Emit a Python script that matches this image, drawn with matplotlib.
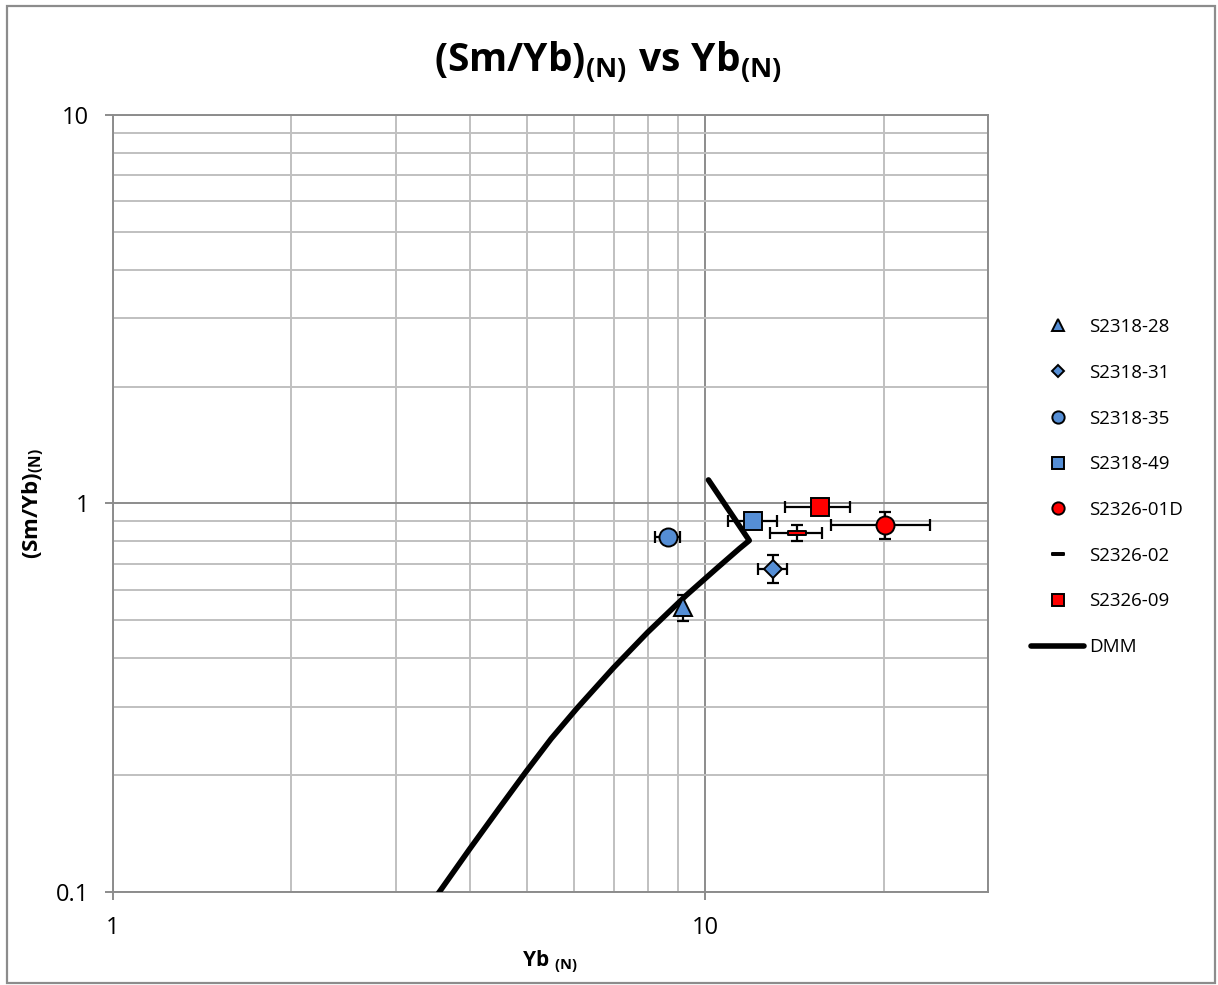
import matplotlib
matplotlib.use("Agg")
import matplotlib.pyplot as plt
from matplotlib.path import Path
from matplotlib.patches import Rectangle
from matplotlib.ticker import FixedLocator, NullFormatter

plt.rcParams['font.family'] = ['Open Sans', 'DejaVu Sans']
plt.rcParams['mathtext.fontset'] = 'custom'
plt.rcParams['mathtext.rm'] = 'Open Sans'
plt.rcParams['mathtext.bf'] = 'Open Sans:bold'
plt.rcParams['mathtext.it'] = 'Open Sans:italic'

# Sample data: Yb(N), (Sm/Yb)(N) with symmetric errors
samples = ['S2318-28', 'S2318-31', 'S2318-35', 'S2318-49', 'S2326-01D', 'S2326-02', 'S2326-09']
yb_n = [9.15, 13.0, 8.64, 12.05, 20.1, 14.3, 15.6]
sm_yb_n = [0.54, 0.68, 0.82, 0.90, 0.88, 0.84, 0.98]
yb_err = [0.0, 0.73, 0.43, 1.15, 3.8, 1.43, 1.95]
sm_yb_err = [0.043, 0.057, 0.0, 0.0, 0.07, 0.04, 0.0]

# DMM melting trend
dmm_yb = [10.12, 11.86, 11.41, 10.43, 9.28, 7.99, 7.00, 6.07, 5.49, 4.98, 4.49, 4.00, 3.56, 3.50]
dmm_sm_yb = [1.15, 0.803, 0.765, 0.679, 0.580, 0.466, 0.378, 0.297, 0.248, 0.204, 0.1645, 0.129, 0.1003, 0.0967]

blue = '#558ED5'
red = '#FF0000'
dash = Path([(-1, -0.22), (1, -0.22), (1, 0.22), (-1, 0.22), (-1, -0.22)],
            [Path.MOVETO, Path.LINETO, Path.LINETO, Path.LINETO, Path.CLOSEPOLY])
styles = [
    dict(marker='^', color=blue, ms=13),
    dict(marker='D', color=blue, ms=9),
    dict(marker='o', color=blue, ms=13),
    dict(marker='s', color=blue, ms=13),
    dict(marker='o', color=red, ms=13),
    dict(marker=dash, color=red, ms=13),
    dict(marker='s', color=red, ms=13),
]

fig = plt.figure(figsize=(12.18, 9.85), dpi=100)
ax = fig.add_axes([113 / 1218, 1 - 892 / 985, (988 - 113) / 1218, (892 - 115) / 985])

ax.set_xscale('log')
ax.set_yscale('log')
ax.set_xlim(1, 30)
ax.set_ylim(0.1, 10)

# grid
ax.xaxis.set_major_locator(FixedLocator([1, 10]))
ax.xaxis.set_minor_locator(FixedLocator([2, 3, 4, 5, 6, 7, 8, 9, 20, 30]))
ax.yaxis.set_major_locator(FixedLocator([0.1, 1, 10]))
ax.yaxis.set_minor_locator(FixedLocator([0.2, 0.3, 0.4, 0.5, 0.6, 0.7, 0.8, 0.9,
                                         2, 3, 4, 5, 6, 7, 8, 9]))
ax.set_xticklabels(['1', '10'])
ax.set_yticklabels(['0.1', '1', '10'])
ax.xaxis.set_minor_formatter(NullFormatter())
ax.yaxis.set_minor_formatter(NullFormatter())
ax.grid(True, which='major', color='#8c8c8c', lw=1.4, zorder=0)
ax.grid(True, which='minor', color='#c0c0c0', lw=1.4, zorder=0)
ax.set_axisbelow(True)
ax.tick_params(which='major', length=6, width=1.4, color='#8c8c8c',
               labelsize=17, pad=11)
ax.tick_params(which='minor', length=0)
for s in ax.spines.values():
    s.set_color('#8c8c8c')
    s.set_linewidth(1.4)

# DMM line
dmm_line, = ax.plot(dmm_yb, dmm_sm_yb, color='black', lw=4, solid_joinstyle='round',
                    solid_capstyle='round', label='DMM', zorder=3)

handles = []
for name, x, y, xe, ye, st in zip(samples, yb_n, sm_yb_n, yb_err, sm_yb_err, styles):
    ax.errorbar(x, y, xerr=xe if xe > 0 else None, yerr=ye if ye > 0 else None,
                fmt='none', ecolor='black', elinewidth=1.6, capsize=4.5,
                capthick=1.6, zorder=4)
    h, = ax.plot([x], [y], linestyle='none', marker=st['marker'], ms=st['ms'],
                 mfc=st['color'], mec='black', mew=1.4, zorder=5, label=name)
    handles.append(h)

leg = fig.legend(handles + [dmm_line], samples + ['DMM'],
                 loc='upper left', bbox_to_anchor=(1031 / 1218, 1 - 318 / 985),
                 frameon=False, fontsize=13.5, markerscale=0.68,
                 handlelength=2.83, handletextpad=0.27, labelspacing=1.48,
                 borderpad=0, borderaxespad=0)

fig.text(0.499, 1 - 62 / 985, r'$\mathbf{(Sm/Yb)_{(N)}\ vs\ Yb_{(N)}}$',
         ha='center', va='center', fontsize=28)
fig.text(33 / 1218, 1 - 503 / 985, r'$\mathbf{(Sm/Yb)_{(N)}}$', rotation=90,
         ha='center', va='center', fontsize=16)
fig.text(550 / 1218, 1 - 962 / 985, r'$\mathbf{Yb\ _{(N)}}$',
         ha='center', va='center', fontsize=15)

# outer chart border
fig.patches.append(Rectangle((7 / 1218, 1 - 983 / 985), (1215 - 7) / 1218, (983 - 6) / 985,
                             transform=fig.transFigure, fill=False,
                             edgecolor='#8c8c8c', lw=1.6))

fig.savefig('out.png', dpi=100)
